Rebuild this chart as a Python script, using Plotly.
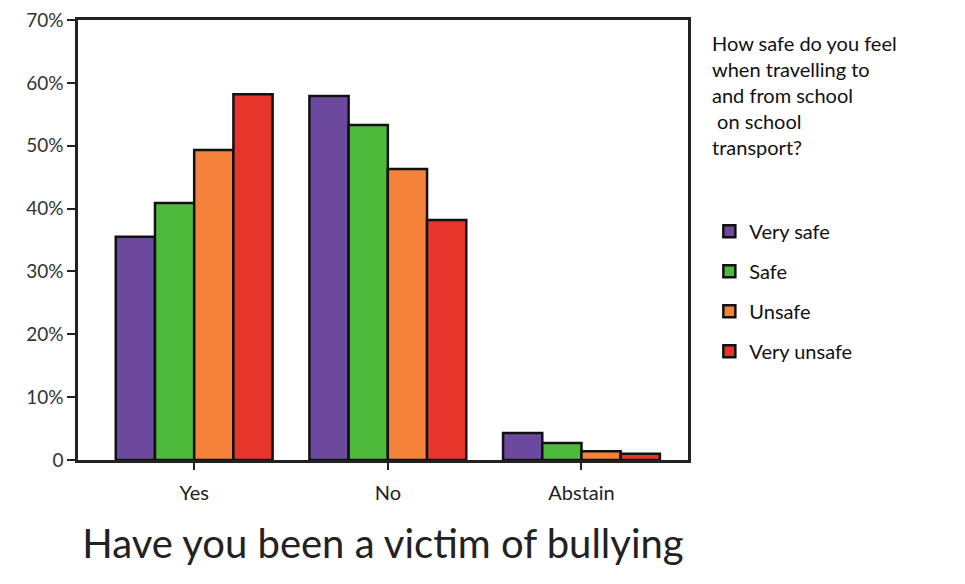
import plotly.graph_objects as go

categories = ["Yes", "No", "Abstain"]
series_names = ["Very safe", "Safe", "Unsafe", "Very unsafe"]
very_safe = [35.5, 57.9, 4.3]
safe = [40.9, 53.3, 2.7]
unsafe = [49.3, 46.3, 1.4]
very_unsafe = [58.2, 38.2, 1.0]
values = [very_safe, safe, unsafe, very_unsafe]
colors = ["#6b4a9e", "#4dba3c", "#f5823a", "#e8352c"]
ytick_vals = [0, 10, 20, 30, 40, 50, 60, 70]
ytick_text = ["0", "10%", "20%", "30%", "40%", "50%", "60%", "70%"]
legend_title = "How safe do you feel<br>when travelling to<br>and from school<br> on school<br>transport?"

font_family = "Lato, 'Open Sans', 'DejaVu Sans', sans-serif"

fig = go.Figure()
for i, (name, vals, col) in enumerate(zip(series_names, values, colors)):
    fig.add_trace(go.Bar(
        x=categories, y=vals, name=name,
        marker=dict(color=col, line=dict(color="#111111", width=2.5)),
        legendgroup=f"g{i}",
    ))

fig.add_annotation(
    text=legend_title, xref="paper", yref="paper",
    x=1.036, y=0.98, xanchor="left", yanchor="top",
    align="left", showarrow=False,
    font=dict(size=20, family=font_family, color="#111111"),
)

fig.update_layout(
    width=965, height=584,
    margin=dict(l=70, r=285, t=12, b=132, autoexpand=False),
    paper_bgcolor="white", plot_bgcolor="white",
    barmode="group", bargap=0.19, bargroupgap=0,
    font=dict(family=font_family, color="#222222"),
    showlegend=True,
    legend=dict(
        x=1.035, y=0.564, xanchor="left", yanchor="top",
        font=dict(size=20, family=font_family, color="#111111"),
        tracegroupgap=11,
        itemwidth=30,
        bgcolor="rgba(0,0,0,0)",
    ),
    xaxis=dict(
        range=[-0.6, 2.55], automargin=False,
        showline=True, linecolor="#222222", linewidth=2.5, mirror=True,
        ticks="outside", ticklen=7, tickwidth=2, tickcolor="#222222",
        ticklabelstandoff=6,
        tickfont=dict(size=20, family=font_family, color="#222222"),
        title=dict(text="Have you been a victim of bullying",
                   font=dict(size=40, family=font_family, color="#222222"), standoff=28),
        showgrid=False,
    ),
    yaxis=dict(
        range=[0, 70], automargin=False,
        tickvals=ytick_vals, ticktext=ytick_text,
        ticklabeloverflow="allow",
        showline=True, linecolor="#222222", linewidth=2.5, mirror=True,
        ticks="outside", ticklen=8, tickwidth=2, tickcolor="#222222",
        tickfont=dict(size=19, family=font_family, color="#333333"),
        showgrid=False, zeroline=False,
    ),
)

fig.write_html("out.html")
